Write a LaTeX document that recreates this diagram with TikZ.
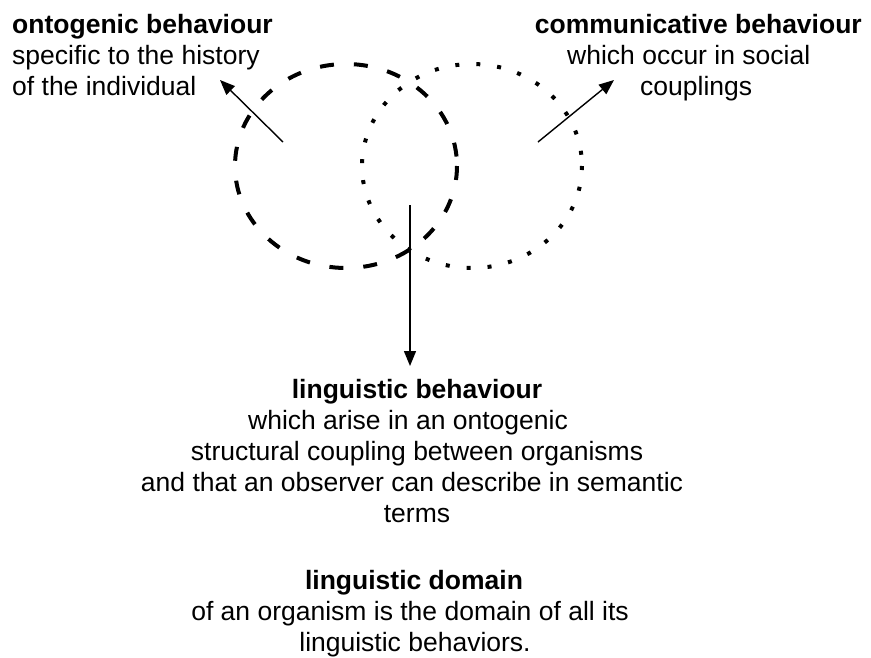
\documentclass[tikz,border=0pt]{standalone}
\usepackage{fontspec}
\setmainfont{Liberation Sans}
\usetikzlibrary{arrows.meta}
\begin{document}
\begin{tikzpicture}[x=1pt,y=-1pt,
  txt/.style={inner sep=0pt,font=\fontsize{26.5}{30}\selectfont},
  hd/.style={txt,font=\fontsize{26.5}{30}\selectfont\bfseries},
  ring/.style={line width=4pt},
  ptr/.style={line width=1.4pt,-{Triangle[length=15pt,width=12pt]}}]
\useasboundingbox (0,0) rectangle (871,657);

% the two overlapping domains
\draw[ring,dash pattern=on 14pt off 20pt] (346,166) ellipse [x radius=111,y radius=102];
\draw[ring,dash pattern=on 4pt off 17pt] (472,166) ellipse [x radius=110,y radius=102];

% upper left label
\node[hd,anchor=base west] (ontoA) at (12,33) {ontogenic behaviour};
\node[txt,anchor=base west] (ontoB) at (12,64) {specific to the history};
\node[txt,anchor=base west] (ontoC) at (12,95) {of the individual};

% upper right label
\node[hd,anchor=base east] (commA) at (862,33) {communicative behaviour};
\node[txt,anchor=base west] (commB) at (567,64) {which occur in social};
\node[txt,anchor=base west] (commC) at (640,95) {couplings};

% lower labels
\node[hd,anchor=base] (lingA) at (417,398) {linguistic behaviour};
\node[txt,anchor=base] (lingB) at (408,429) {which arise in an ontogenic};
\node[txt,anchor=base] (lingC) at (417,460) {structural coupling between organisms};
\node[txt,anchor=base] (lingD) at (412,491) {and that an observer can describe in semantic};
\node[txt,anchor=base] (lingE) at (417,522) {terms};
\node[hd,anchor=base] (domA) at (414,589) {linguistic domain};
\node[txt,anchor=base] (domB) at (410,620) {of an organism is the domain of all its};
\node[txt,anchor=base] (domC) at (415,651) {linguistic behaviors.};

% pointers
\coordinate (lstart) at (283,142);
\coordinate (ltip) at (220,80);
\coordinate (rstart) at (538,142);
\coordinate (rtip) at (614,80);
\coordinate (dstart) at (410,205);
\coordinate (dtip) at (410,366);
\draw[ptr] (lstart) -- (ltip);
\draw[ptr] (rstart) -- (rtip);
\draw[ptr] (dstart) -- (dtip);
\end{tikzpicture}
\end{document}
